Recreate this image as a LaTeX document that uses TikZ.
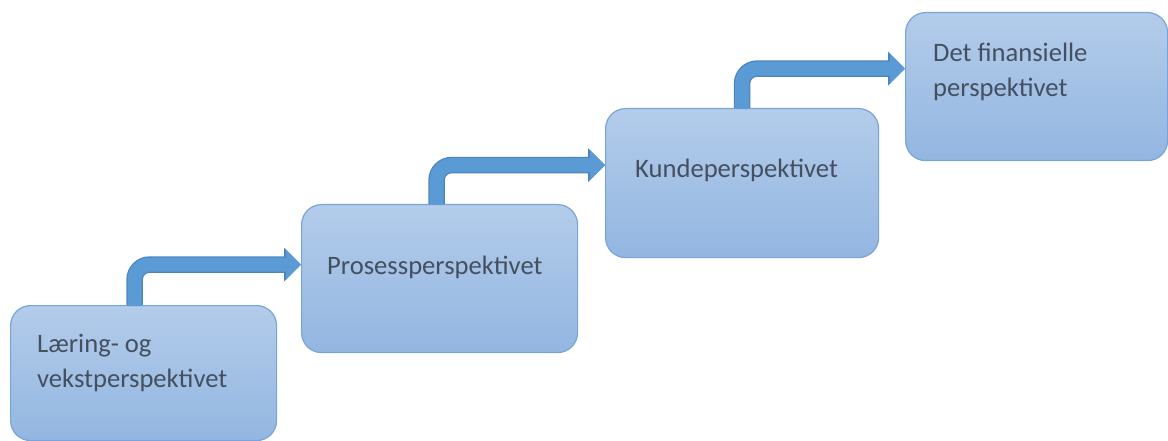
\documentclass[tikz,border=0pt]{standalone}
\usepackage{fontspec}
\setmainfont{Carlito}
\usepackage{tikz}
\usetikzlibrary{arrows.meta,positioning,calc}
\definecolor{boxtop}{HTML}{B3CCEA}
\definecolor{boxbot}{HTML}{93B6E1}
\definecolor{boxline}{HTML}{78A5D9}
\definecolor{arrfill}{HTML}{5B9BD5}
\definecolor{arrline}{HTML}{4A85BF}
\definecolor{txtgray}{HTML}{44505F}
\tikzset{
  stage/.style={draw=boxline, line width=1.2pt, rounded corners=20pt, top color=boxtop, bottom color=boxbot, anchor=north west, inner sep=0pt},
  lbl/.style={font=\fontsize{26.6}{35}\selectfont, text=txtgray, align=left, inner sep=0pt, anchor=base west},
  stepline/.style={line width=16.5pt, arrline, rounded corners=15pt, -{Triangle[length=17pt, width=33pt]}},
  stepfill/.style={line width=14pt, arrfill, rounded corners=15pt, -{Triangle[length=15pt, width=29pt]}}
}

\begin{document}
\begin{tikzpicture}[x=1pt, y=-1pt]
  \useasboundingbox (0,0) rectangle (1168,441);
  \node[stage, minimum width=266pt, minimum height=135pt] (learn) at (10,305) {};
  \node[stage, minimum width=276pt, minimum height=148pt] (proc) at (301,204) {};
  \node[stage, minimum width=273pt, minimum height=149pt] (cust) at (605,108) {};
  \node[stage, minimum width=262pt, minimum height=148pt] (fin) at (905,12) {};
  % base of a two-line label sits on its last line
  \node[lbl] (learntxt) at ($(learn.north west)+(27,82)$) {Læring- og\\vekstperspektivet};
  \node[lbl] (proctxt) at ($(proc.north west)+(26,70)$) {Prosessperspektivet};
  \node[lbl] (custtxt) at ($(cust.north west)+(30,70)$) {Kundeperspektivet};
  \node[lbl] (fintxt) at ($(fin.north west)+(28,85)$) {Det finansielle\\perspektivet};
  % bent arrows between the steps
  \draw[stepline] ($(learn.north)+(-9,0)$) |- ($(proc.west)+(0,-14)$);
  \draw[stepfill] ($(learn.north)+(-9,1)$) |- ($(proc.west)+(0,-14)$);
  \draw[stepline] ($(proc.north)+(-3,0)$) |- ($(cust.west)+(0,-18)$);
  \draw[stepfill] ($(proc.north)+(-3,1)$) |- ($(cust.west)+(0,-18)$);
  \draw[stepline] (cust.north) |- ($(fin.west)+(0,-18)$);
  \draw[stepfill] ($(cust.north)+(0,1)$) |- ($(fin.west)+(0,-18)$);
\end{tikzpicture}
\end{document}
